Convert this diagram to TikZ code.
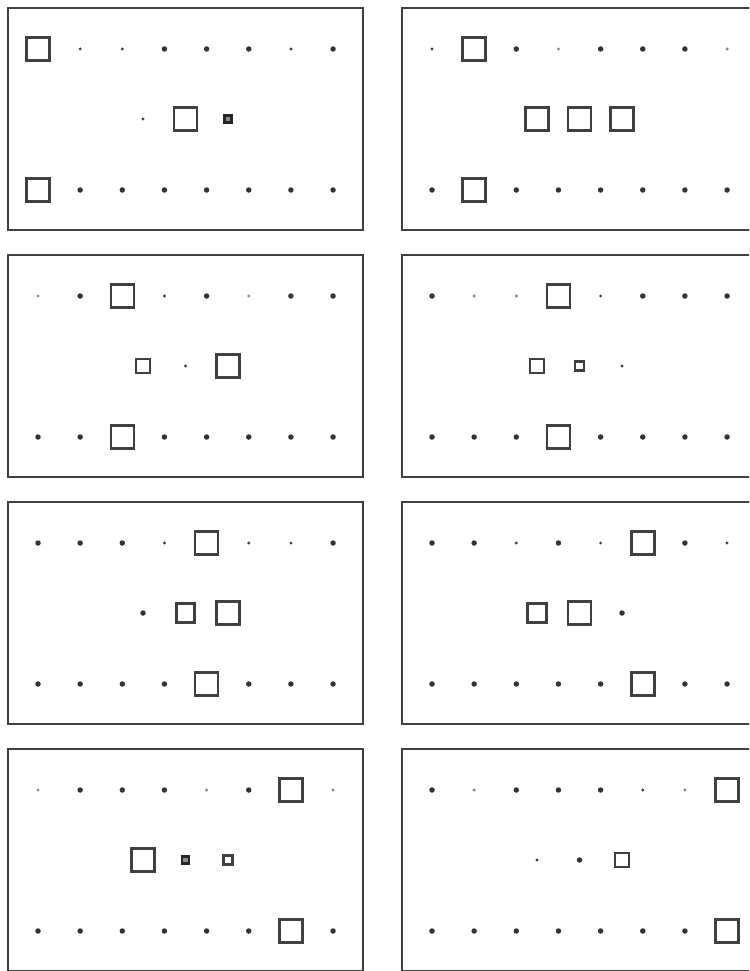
\documentclass[tikz,border=0pt]{standalone}
\tikzset{
  frame/.style={draw=black!75,line width=2.2pt,rectangle,minimum width=355pt,minimum height=222pt,inner sep=0pt},
  sqbase/.style={draw=black!75,rectangle,inner sep=0pt,outer sep=0pt},
  sqA/.style={sqbase,line width=2.6pt,minimum size=23pt},
  sqB/.style={sqbase,line width=2.6pt,minimum size=18.5pt},
  sqC/.style={sqbase,line width=2.6pt,minimum size=14pt},
  sqD/.style={sqbase,line width=2.6pt,minimum size=9pt},
  sqE/.style={sqbase,draw=black!85,fill=black!45,line width=2.4pt,minimum size=7pt},
  dotL/.style={circle,fill=black!80,inner sep=0pt,minimum size=5.5pt},
  dotS/.style={circle,fill=black!75,inner sep=0pt,minimum size=3.2pt},
  dotG/.style={circle,fill=black!45,inner sep=0pt,minimum size=3.4pt}
}
\newcommand{\mypanel}[6]{%
  \node[frame] (#1-box) at (#2+177.5,#3+111) {};
  \foreach \s [count=\i] in {#4} \node[\s] (#1-t\i) at ({#2+30+42.15*(\i-1)},{#3+41}) {};
  \foreach \s [count=\i] in {#5} \node[\s] (#1-m\i) at ({#2+135+42.5*(\i-1)},{#3+111}) {};
  \foreach \s [count=\i] in {#6} \node[\s] (#1-b\i) at ({#2+30+42.15*(\i-1)},{#3+182}) {};
}
\begin{document}
\begin{tikzpicture}[x=1pt,y=-1pt]
\useasboundingbox (0,0) rectangle (749,971);
\clip (0,0) rectangle (749,971);
\fill[white] (0,0) rectangle (749,971);
\mypanel{p1}{8}{8}{sqA,dotS,dotS,dotL,dotL,dotL,dotS,dotL}{dotS,sqA,sqE}{sqA,dotL,dotL,dotL,dotL,dotL,dotL,dotL}
\mypanel{p2}{402}{8}{dotS,sqA,dotL,dotG,dotL,dotL,dotL,dotG}{sqA,sqA,sqA}{dotL,sqA,dotL,dotL,dotL,dotL,dotL,dotL}
\mypanel{p3}{8}{255}{dotG,dotL,sqA,dotS,dotL,dotG,dotL,dotL}{sqC,dotS,sqA}{dotL,dotL,sqA,dotL,dotL,dotL,dotL,dotL}
\mypanel{p4}{402}{255}{dotL,dotG,dotG,sqA,dotS,dotL,dotL,dotL}{sqC,sqD,dotS}{dotL,dotL,dotL,sqA,dotL,dotL,dotL,dotL}
\mypanel{p5}{8}{502}{dotL,dotL,dotL,dotS,sqA,dotS,dotS,dotL}{dotL,sqB,sqA}{dotL,dotL,dotL,dotL,sqA,dotL,dotL,dotL}
\mypanel{p6}{402}{502}{dotL,dotL,dotS,dotL,dotS,sqA,dotL,dotS}{sqB,sqA,dotL}{dotL,dotL,dotL,dotL,dotL,sqA,dotL,dotL}
\mypanel{p7}{8}{749}{dotG,dotL,dotL,dotL,dotG,dotL,sqA,dotG}{sqA,sqE,sqD}{dotL,dotL,dotL,dotL,dotL,dotL,sqA,dotL}
\mypanel{p8}{402}{749}{dotL,dotG,dotL,dotL,dotL,dotS,dotG,sqA}{dotS,dotL,sqC}{dotL,dotL,dotL,dotL,dotL,dotL,dotL,sqA}
\end{tikzpicture}
\end{document}
